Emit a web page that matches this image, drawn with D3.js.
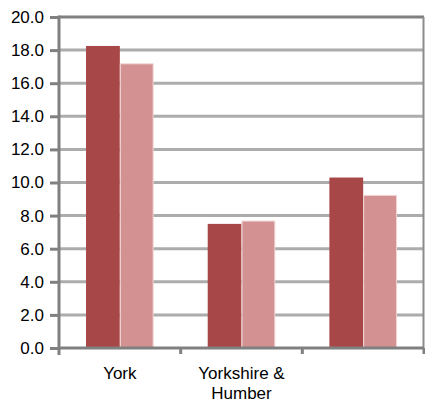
<!DOCTYPE html>
<html>
<head>
<meta charset="utf-8">
<script src="https://cdn.jsdelivr.net/npm/d3@7"></script>
<style>
  body { margin: 0; background: #fff; }
  svg text { font-family: "Liberation Sans", Arial, sans-serif; fill: #000; }
</style>
</head>
<body>
<div id="chart"></div>
<script>
const categories = ["York", "Yorkshire &\nHumber", ""];
const seriesA = [18.25, 7.5, 10.3];
const seriesB = [17.2, 7.7, 9.25];
const yTicks = [0, 2, 4, 6, 8, 10, 12, 14, 16, 18, 20];

const W = 425, H = 403;
const margin = { top: 17, left: 59, right: 1, bottom: 55 };
const width = W - margin.left - margin.right;
const height = H - margin.top - margin.bottom;

const svg = d3.select("#chart").append("svg")
    .attr("width", W)
    .attr("height", H);

const g = svg.append("g")
    .attr("transform", `translate(${margin.left},${margin.top})`);

const x = d3.scaleBand()
    .domain(d3.range(categories.length))
    .range([0, width]);

const inner = d3.scaleBand()
    .domain([0, 1])
    .range([0, x.bandwidth()])
    .paddingOuter(0.8);

const y = d3.scaleLinear()
    .domain([0, 20])
    .range([height, 0]);

// gridlines
g.append("g")
    .selectAll("line")
    .data(yTicks.filter(d => d > 0 && d < 20))
    .join("line")
    .attr("x1", 0)
    .attr("x2", width)
    .attr("y1", d => y(d))
    .attr("y2", d => y(d))
    .attr("stroke", "#acacac")
    .attr("stroke-width", 3);

// top + right border
g.append("line")
    .attr("x1", 0).attr("x2", width)
    .attr("y1", 0).attr("y2", 0)
    .attr("stroke", "#808080").attr("stroke-width", 3);
g.append("line")
    .attr("x1", width - 0.5).attr("x2", width - 0.5)
    .attr("y1", 0).attr("y2", height)
    .attr("stroke", "#8c8c8c").attr("stroke-width", 2);

// bars
const groups = g.append("g")
    .selectAll("g")
    .data(categories.map((c, i) => i))
    .join("g")
    .attr("transform", i => `translate(${x(i)},0)`);

groups.append("rect")
    .attr("x", inner(0))
    .attr("width", inner.bandwidth())
    .attr("y", i => y(seriesA[i]))
    .attr("height", i => height - y(seriesA[i]))
    .attr("fill", "#a84747");

groups.append("rect")
    .attr("x", inner(1) + 0.5)
    .attr("width", inner.bandwidth() - 1)
    .attr("y", i => y(seriesB[i]) + 0.5)
    .attr("height", i => height - y(seriesB[i]) - 0.5)
    .attr("fill", "#d39191")
    .attr("stroke", "#f0d4d4")
    .attr("stroke-width", 1);

// y axis
const yAxis = g.append("g")
    .call(d3.axisLeft(y).tickValues(yTicks).tickSize(9).tickPadding(6)
        .tickFormat(d3.format(".1f")));
yAxis.select(".domain").remove();
yAxis.selectAll(".tick line").attr("stroke", "#808080").attr("stroke-width", 3);
yAxis.selectAll(".tick text").attr("font-size", 17);
g.append("line")
    .attr("x1", 0).attr("x2", 0)
    .attr("y1", -1.5).attr("y2", height + 7)
    .attr("stroke", "#808080").attr("stroke-width", 3);

// x axis
g.append("line")
    .attr("x1", 0).attr("x2", width)
    .attr("y1", height).attr("y2", height)
    .attr("stroke", "#808080").attr("stroke-width", 3);
g.append("g")
    .selectAll("line")
    .data(d3.range(1, categories.length + 1))
    .join("line")
    .attr("x1", i => i * x.step())
    .attr("x2", i => i * x.step())
    .attr("y1", height)
    .attr("y2", height + 6)
    .attr("stroke", "#808080")
    .attr("stroke-width", 3);

const labels = g.append("g")
    .selectAll("text")
    .data(categories.map((c, i) => i))
    .join("text")
    .attr("text-anchor", "middle")
    .attr("font-size", 17)
    .attr("transform", i => `translate(${x(i) + x.bandwidth() / 2},${height + 31})`);

labels.selectAll("tspan")
    .data(i => categories[i].split("\n"))
    .join("tspan")
    .attr("x", 0)
    .attr("dy", (d, j) => j === 0 ? 0 : 20)
    .text(d => d);
</script>
</body>
</html>
